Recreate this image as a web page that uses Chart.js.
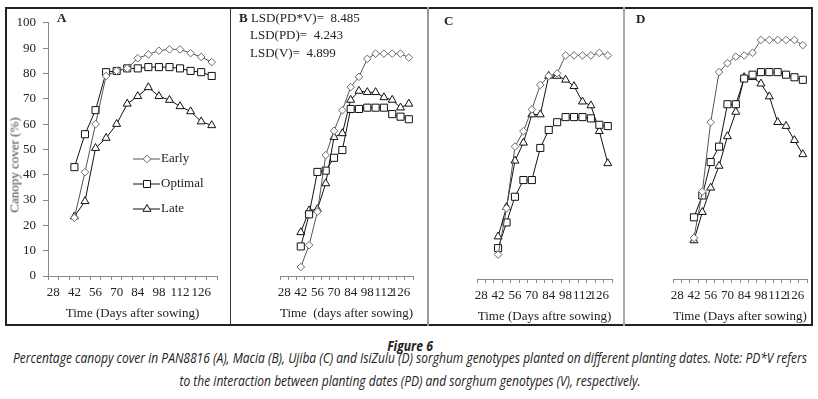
<!DOCTYPE html>
<html>
<head>
<meta charset="utf-8">
<script src="https://cdn.jsdelivr.net/npm/chart.js@4.4.1/dist/chart.umd.min.js"></script>
<style>
  body { margin: 0; background: #fff; }
  #wrap { position: relative; width: 818px; height: 399px; overflow: hidden; font-family: 'Liberation Serif', serif; color: #222; }
  canvas { position: absolute; }
  .txt { position: absolute; white-space: pre; font-size: 13px; line-height: 15px; }
  .line { position: absolute; }
  .cap { position: absolute; left: 410px; white-space: nowrap; line-height: 16px;
         font-family: 'Liberation Sans Narrow', 'Open Sans', sans-serif; font-style: italic; color: #222;
         transform-origin: 50% 50%; }
</style>
</head>
<body>
<div id="wrap">
  <div class="line" style="left:5px;top:7px;width:808px;height:319px;border:2px solid #222;box-sizing:border-box;"></div>
  <div class="line" style="left:230px;top:7px;width:1px;height:319px;background:#333;"></div>
  <div class="line" style="left:427px;top:7px;width:2px;height:319px;background:#999;"></div>
  <div class="line" style="left:623px;top:7px;width:2px;height:319px;background:#aaa;"></div>

  <canvas id="cA" width="224" height="318" style="left:6px;top:8px;"></canvas>
  <canvas id="cB" width="196" height="318" style="left:231px;top:8px;"></canvas>
  <canvas id="cC" width="195" height="318" style="left:428px;top:8px;"></canvas>
  <canvas id="cD" width="189" height="318" style="left:624px;top:8px;"></canvas>

  <div class="txt" style="left:57px;top:10px;font-weight:bold;">A</div>
  <div class="txt" style="left:239px;top:10px;"><b>B</b> LSD(PD*V)=  8.485</div>
  <div class="txt" style="left:250px;top:27px;">LSD(PD)=  4.243</div>
  <div class="txt" style="left:250px;top:45px;">LSD(V)=  4.899</div>
  <div class="txt" style="left:444px;top:13px;font-weight:bold;">C</div>
  <div class="txt" style="left:636px;top:11px;font-weight:bold;">D</div>
  <div class="txt" style="left:14px;top:165px;color:#444;transform:translate(-50%,-50%) rotate(-90deg);">Canopy cover (%)</div>

  <div class="cap" id="fig" style="top:338px;font-size:14px;font-weight:bold;">Figure 6</div>
  <div class="cap" id="cap1" style="top:350px;font-size:14px;">Percentage canopy cover in PAN8816 (A), Macia (B), Ujiba (C) and IsiZulu (D) sorghum genotypes planted on different planting dates. Note: PD*V refers</div>
  <div class="cap" id="cap2" style="top:373px;font-size:14px;">to the interaction between planting dates (PD) and sorghum genotypes (V), respectively.</div>
</div>
<script>
// x categories (days after sowing, weekly)
const dayLabels = [28, 35, 42, 49, 56, 63, 70, 77, 84, 91, 98, 105, 112, 119, 126, 133];
// measurements start at day 42
const seriesNames = ['Early', 'Optimal', 'Late'];

// PAN8816 (A)
const aEarly   = [23, 41, 60, 79, 81, 82, 86, 87.5, 89, 89.5, 89.5, 88, 86.5, 84.5];
const aOptimal = [43, 56, 65.5, 80.5, 81, 82, 82, 82.5, 82.5, 82.5, 82, 81, 80.5, 79];
const aLate    = [23.5, 29.5, 50.5, 54.5, 60, 68, 71, 74.5, 71, 69.5, 67, 65, 61, 59.5];
// Macia (B)
const bEarly   = [3.5, 12, 25, 47, 56.5, 64.5, 73.5, 77.5, 84.5, 86.5, 86.5, 86.5, 86.5, 85];
const bOptimal = [11.5, 24, 40.5, 41, 46, 49, 65, 65, 65.5, 65.5, 65.5, 63, 62, 61];
const bLate    = [17, 25.5, 26, 36, 54, 55.5, 68.5, 72, 71.5, 71.5, 69.5, 68.5, 65.5, 67];
// Ujiba (C)
const cEarly   = [9.5, 27.5, 51.5, 57.5, 66, 75.5, 79, 80, 87, 87, 87, 87, 88, 87];
const cOptimal = [12, 22, 32, 38.5, 38.5, 51, 58, 61, 63, 63, 63, 62.5, 60, 59.5];
const cLate    = [16.5, 28, 46, 53, 64, 64, 79, 79, 77.5, 75, 69, 67.5, 57.5, 45];
// IsiZulu (D)
const dEarly   = [16, 34, 61, 80.5, 84, 86.5, 87, 88, 93, 93, 93, 93, 93, 91];
const dOptimal = [24, 32.5, 45.5, 51.5, 68, 68, 78, 79.5, 80.5, 80.5, 80.5, 79.5, 78.5, 77.5];
const dLate    = [15, 26, 35.5, 44, 55.5, 65, 78.5, 78.5, 76, 71, 61, 59.5, 54, 48.5];

const yTicks = { min: 0, max: 100, step: 10 };

const tickFont = { family: "'Liberation Serif', serif", size: 13 };
const axisColor = '#888';

const styles = [
  { pointStyle: 'rectRot', radius: 3.8, line: '#555', point: '#6a6a6a' },
  { pointStyle: 'rect', radius: 5, line: '#111', point: '#111' },
  { pointStyle: 'triangle', radius: 4.6, line: '#111', point: '#111' }
];

function pad(values) {
  return [null, null].concat(values);
}

function makeDatasets(sets) {
  return sets.map((vals, i) => ({
    label: seriesNames[i],
    data: pad(vals),
    borderColor: styles[i].line,
    borderWidth: 1,
    pointStyle: styles[i].pointStyle,
    pointRadius: styles[i].radius,
    pointBorderColor: styles[i].point,
    pointBackgroundColor: '#fff',
    pointBorderWidth: 1,
    tension: 0,
    fill: false
  }));
}

// legend drawn inside panel A
const insideLegend = {
  id: 'insideLegend',
  afterDatasetsDraw(chart) {
    const ctx = chart.ctx;
    const x0 = 127, rows = [151, 176, 201];
    ctx.save();
    chart.data.datasets.forEach((ds, i) => {
      const y = rows[i];
      ctx.strokeStyle = ds.borderColor;
      ctx.lineWidth = 1;
      ctx.beginPath();
      ctx.moveTo(x0, y);
      ctx.lineTo(x0 + 27, y);
      ctx.stroke();
      ctx.fillStyle = '#fff';
      ctx.strokeStyle = ds.pointBorderColor;
      Chart.helpers.drawPoint(ctx, { pointStyle: ds.pointStyle, rotation: 0, radius: ds.pointRadius, borderWidth: 1 }, x0 + 14, y);
      ctx.fillStyle = '#222';
      ctx.font = "13px 'Liberation Serif', serif";
      ctx.textBaseline = 'middle';
      ctx.fillText(ds.label, x0 + 28, y);
    });
    ctx.restore();
  }
};

const panels = [
  { id: 'cA', sets: [aEarly, aOptimal, aLate], showY: true, padding: { left: 0, top: 11, right: 13, bottom: 0 },
    xH: 50, title: 'Time (Days after sowing)', titlePad: 5, legend: true },
  { id: 'cB', sets: [bEarly, bOptimal, bLate], showY: false, padding: { left: 7, top: 11, right: 14, bottom: 0 },
    xH: 50, title: 'Time  (days after sowing)', titlePad: 5 },
  { id: 'cC', sets: [cEarly, cOptimal, cLate], showY: false, padding: { left: 7, top: 14, right: 11, bottom: 0 },
    xH: 47, title: 'Time (Days aftre sowing)', titlePad: 2 },
  { id: 'cD', sets: [dEarly, dOptimal, dLate], showY: false, padding: { left: 7, top: 14, right: 1, bottom: 0 },
    xH: 47, title: 'Time (Days after sowing)', titlePad: 2 }
];

panels.forEach(p => {
  new Chart(document.getElementById(p.id), {
    type: 'line',
    data: { labels: dayLabels, datasets: makeDatasets(p.sets) },
    options: {
      responsive: false,
      animation: false,
      devicePixelRatio: 1,
      layout: { padding: p.padding },
      plugins: { legend: { display: false }, tooltip: { enabled: false } },
      scales: {
        x: {
          type: 'category',
          offset: true,
          grid: { offset: true, drawOnChartArea: false, drawTicks: true, tickLength: 4, color: axisColor },
          border: { display: true, color: axisColor, width: 1 },
          ticks: {
            autoSkip: false, maxRotation: 0, minRotation: 0, padding: 5,
            font: tickFont, color: '#222',
            callback: (v, i) => (i % 2 === 0 ? String(dayLabels[i]) : '')
          },
          title: { display: true, text: p.title, font: tickFont, color: '#222', padding: { top: 0, bottom: p.titlePad } },
          afterFit: s => { s.height = p.xH; }
        },
        y: {
          display: p.showY,
          min: yTicks.min, max: yTicks.max,
          grid: { drawOnChartArea: false, drawTicks: true, tickLength: 5, color: axisColor },
          border: { display: true, color: axisColor, width: 1 },
          ticks: { stepSize: yTicks.step, padding: 7, font: tickFont, color: '#222' },
          afterFit: s => { s.width = 42; }
        }
      }
    },
    plugins: p.legend ? [insideLegend] : []
  });
});

// squeeze caption lines to the widths used in the figure
function fit(el, width, k) {
  const s = k || width / el.offsetWidth;
  el.style.transform = 'translateX(-50%) scaleX(' + s + ')';
  return s;
}
fit(document.getElementById('fig'), 46);
const k = fit(document.getElementById('cap1'), 794);
fit(document.getElementById('cap2'), 0, k);
</script>
</body>
</html>
